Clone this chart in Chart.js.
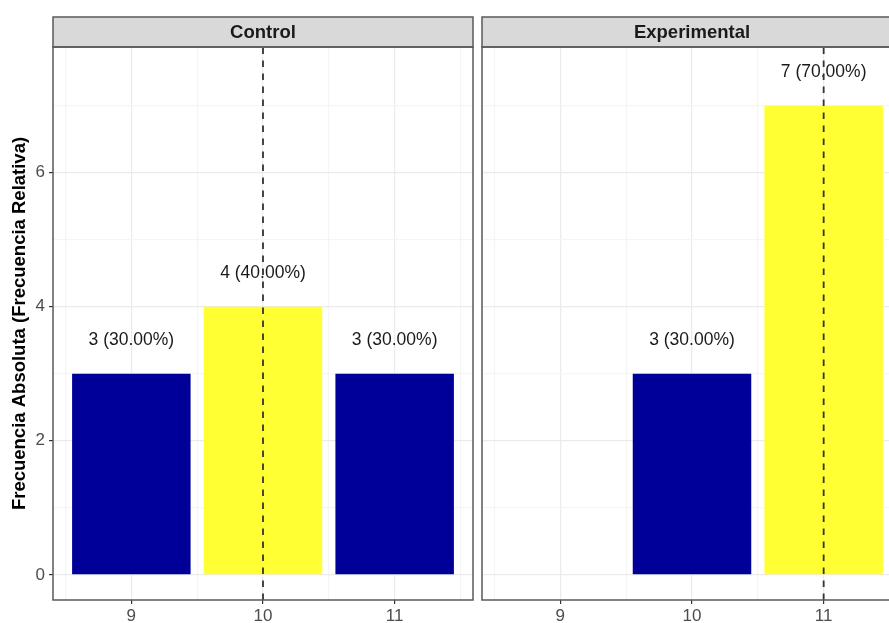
<!DOCTYPE html>
<html>
<head>
<meta charset="utf-8">
<script src="https://cdn.jsdelivr.net/npm/chart.js@4.4.0/dist/chart.umd.min.js"></script>
<style>
  html, body { margin: 0; padding: 0; background: #fff; overflow: hidden; width: 889px; height: 623px; }
  canvas { position: absolute; top: 0; }
</style>
</head>
<body>
<canvas id="control" width="478" height="623" style="left:0"></canvas>
<canvas id="experimental" width="430" height="623" style="left:478px"></canvas>
<script>
const categories = [9, 10, 11];
const controlCounts = [3, 4, 3];
const experimentalCounts = [0, 3, 7];
const controlLine = 10;
const experimentalLine = 11;
const xTicks = [8.5, 9, 9.5, 10, 10.5, 11, 11.5];
const yTicks = [0, 1, 2, 3, 4, 5, 6, 7];
const yLabels = [0, 2, 4, 6];

const FONT = "'Liberation Sans', Arial, Helvetica, sans-serif";
const BLUE = '#000099';
const YELLOW = '#FFFF33';
const BORDER = '#595959';

// panel frame + facet strip
const stripPlugin = {
  id: 'strip',
  afterDraw(chart, args, opts) {
    const a = chart.chartArea;
    const ctx = chart.ctx;
    ctx.save();
    ctx.fillStyle = '#D9D9D9';
    ctx.fillRect(a.left, 17, a.right - a.left, 30);
    ctx.strokeStyle = BORDER;
    ctx.lineWidth = 1.5;
    ctx.strokeRect(a.left, 17, a.right - a.left, 30);
    ctx.strokeRect(a.left, a.top, a.right - a.left, a.bottom - a.top);
    ctx.fillStyle = '#1A1A1A';
    ctx.font = 'bold 18.5px ' + FONT;
    ctx.textAlign = 'center';
    ctx.textBaseline = 'middle';
    ctx.fillText(opts.text, (a.left + a.right) / 2, 32.5);
    ctx.restore();
  }
};

// "n (pct%)" above each bar, drawn before the dashed line
const labelPlugin = {
  id: 'barLabels',
  afterDatasetDraw(chart, args) {
    if (args.index !== 0) return;
    const ds = chart.data.datasets[0];
    const total = ds.data.reduce(function(s, d) { return s + d.y; }, 0);
    const ctx = chart.ctx;
    ctx.save();
    ctx.fillStyle = '#1A1A1A';
    ctx.font = '17.5px ' + FONT;
    ctx.textAlign = 'center';
    ctx.textBaseline = 'middle';
    ds.data.forEach(function(d) {
      const x = chart.scales.x.getPixelForValue(d.x);
      const y = chart.scales.y.getPixelForValue(d.y + 0.5);
      ctx.fillText(d.y + ' (' + (d.y / total * 100).toFixed(2) + '%)', x, y);
    });
    ctx.restore();
  }
};

function makePanel(id, title, counts, lineAt, showY, padLeft, padRight) {
  const max = Math.max.apply(null, counts);
  const bars = categories.map(function(c, i) { return { x: c, y: counts[i] }; })
    .filter(function(d) { return d.y > 0; });
  return new Chart(document.getElementById(id), {
    type: 'bar',
    data: {
      datasets: [
        {
          type: 'bar',
          data: bars,
          backgroundColor: bars.map(function(d) { return d.y === max ? YELLOW : BLUE; }),
          borderWidth: 0,
          // ruler uses the 0.5-unit tick spacing, so 1.8 * 0.5 = 0.9 units wide
          categoryPercentage: 1,
          barPercentage: 1.8,
          order: 1
        },
        {
          type: 'line',
          data: [{ x: lineAt, y: -0.375 }, { x: lineAt, y: 7.875 }],
          borderColor: '#333333',
          borderWidth: 1.8,
          borderDash: [6.5, 6.5],
          pointRadius: 0,
          fill: false,
          order: 0
        }
      ]
    },
    options: {
      responsive: false,
      animation: false,
      layout: { padding: { top: 47, left: padLeft, right: padRight, bottom: 0 } },
      plugins: {
        legend: { display: false },
        tooltip: { enabled: false },
        strip: { text: title }
      },
      scales: {
        x: {
          type: 'linear',
          min: 8.405,
          max: 11.595,
          offset: false,
          afterBuildTicks: function(s) { s.ticks = xTicks.map(function(v) { return { value: v }; }); },
          afterFit: function(s) { s.height = 23; },
          ticks: {
            autoSkip: false,
            maxRotation: 0,
            color: '#4D4D4D',
            font: { family: FONT, size: 17 },
            padding: 2,
            callback: function(v) { return categories.includes(v) ? String(v) : ''; }
          },
          border: { display: false },
          grid: {
            offset: false,
            tickLength: 4,
            color: function(c) { return Number.isInteger(c.tick.value) ? '#EBEBEB' : '#F5F5F5'; },
            tickColor: function(c) { return Number.isInteger(c.tick.value) ? '#333333' : 'rgba(0,0,0,0)'; },
            lineWidth: 1.2,
            tickWidth: 1.2
          }
        },
        y: {
          type: 'linear',
          min: -0.375,
          max: 7.875,
          afterBuildTicks: function(s) { s.ticks = yTicks.map(function(v) { return { value: v }; }); },
          afterFit: function(s) { s.width = showY ? 53 : 0; },
          ticks: {
            display: showY,
            color: '#4D4D4D',
            font: { family: FONT, size: 17 },
            padding: 4,
            callback: function(v) { return yLabels.includes(v) ? String(v) : ''; }
          },
          title: {
            display: showY,
            text: 'Frecuencia Absoluta (Frecuencia Relativa)',
            color: '#000000',
            font: { family: FONT, size: 18.5, weight: 'bold' },
            padding: { top: 9, bottom: 0 }
          },
          border: { display: false },
          grid: {
            drawTicks: showY,
            tickLength: 4,
            color: function(c) { return yLabels.includes(c.tick.value) ? '#EBEBEB' : '#F5F5F5'; },
            tickColor: function(c) { return yLabels.includes(c.tick.value) ? '#333333' : 'rgba(0,0,0,0)'; },
            lineWidth: 1.2,
            tickWidth: 1.2
          }
        }
      }
    },
    plugins: [stripPlugin, labelPlugin]
  });
}

makePanel('control', 'Control', controlCounts, controlLine, true, 0, 5);
makePanel('experimental', 'Experimental', experimentalCounts, experimentalLine, false, 4, 6);
</script>
</body>
</html>
